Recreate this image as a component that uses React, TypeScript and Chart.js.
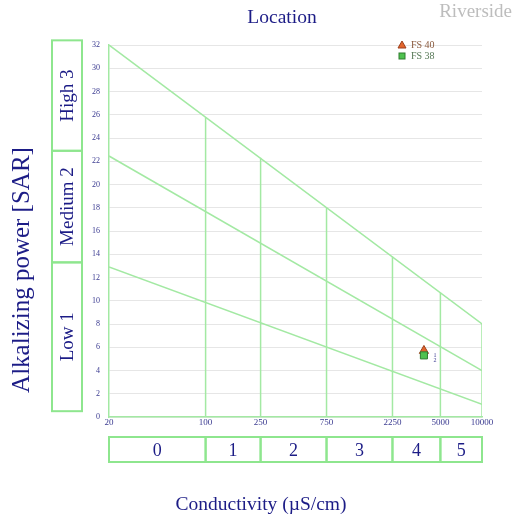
import React, { useEffect, useRef } from "react";
import { Chart, registerables } from "chart.js";

Chart.register(...registerables);

// ---- data ----
const conductivityTicks = [20, 100, 250, 750, 2250, 5000, 10000];
const salinityClassBounds = [20, 100, 250, 750, 2250, 5000, 10000];
const salinityClassLabels = ["0", "1", "2", "3", "4", "5"];
const boundaryTopsSAR = [25.8, 22.3, 18.0, 13.8, 10.7, 8]; // tops of verticals at 100..10000
const sodiumClassBounds = [0.5, 13.3, 22.9, 32.4];
const sodiumClassLabels = ["Low 1", "Medium 2", "High 3"];
const upperLineSAR = [32, 8]; // at EC 20 and 10000
const middleLineSAR = [22.45, 4.0];
const lowerLineSAR = [12.9, 1.1];
const lineEC = [20, 10000];
const sampleNames = ["FS 40", "FS 38"];
const sampleIds = ["1", "2"];
const sampleEC = [3800, 3800];
const sampleSAR = [5.7, 5.3];

const NAVY = "#1c1c86";
const TICK_NAVY = "#3a3a90";
const LINE_GREEN = "#a3e9a3";
const BOX_GREEN = "#8ee68e";
const SERIF = "'Liberation Serif', 'Times New Roman', serif";

const decor = {
  id: "decor",
  afterDatasetsDraw(chart: any) {
    const { ctx } = chart;
    ctx.save();
    ctx.font = `6px ${SERIF}`;
    ctx.fillStyle = TICK_NAVY;
    ctx.textAlign = "center";
    ctx.textBaseline = "middle";
    [0, 1].forEach((i) => {
      const meta = chart.getDatasetMeta(chart.data.datasets.length - 2 + i);
      const el = meta.data[0];
      if (el) ctx.fillText(sampleIds[i], el.x + 11, el.y + 5);
    });
    ctx.restore();
  },
  afterDraw(chart: any) {
    const { ctx } = chart;
    const x = chart.scales.x;
    const y = chart.scales.y;
    ctx.save();
    // titles
    ctx.fillStyle = NAVY;
    ctx.textAlign = "center";
    ctx.textBaseline = "middle";
    ctx.font = `19.5px ${SERIF}`;
    ctx.fillText("Location", 282, 18);
    ctx.fillText("Conductivity (µS/cm)", 261, 505);
    ctx.fillStyle = "#bdbdbd";
    ctx.textAlign = "right";
    ctx.font = `19px ${SERIF}`;
    ctx.fillText("Riverside", 512, 12);
    // y title
    ctx.save();
    ctx.translate(22, 270);
    ctx.rotate(-Math.PI / 2);
    ctx.fillStyle = NAVY;
    ctx.textAlign = "center";
    ctx.font = `25px ${SERIF}`;
    ctx.fillText("Alkalizing power [SAR]", 0, 0);
    ctx.restore();

    // bottom salinity boxes
    ctx.strokeStyle = BOX_GREEN;
    ctx.lineWidth = 2;
    ctx.font = `18px ${SERIF}`;
    ctx.fillStyle = NAVY;
    ctx.textAlign = "center";
    for (let i = 0; i < salinityClassLabels.length; i++) {
      const x0 = x.getPixelForValue(salinityClassBounds[i]);
      const x1 = x.getPixelForValue(salinityClassBounds[i + 1]);
      ctx.strokeRect(x0, 437, x1 - x0, 25);
      ctx.fillText(salinityClassLabels[i], (x0 + x1) / 2, 451);
    }
    // left sodium boxes
    ctx.font = `19px ${SERIF}`;
    for (let i = 0; i < sodiumClassLabels.length; i++) {
      const y0 = y.getPixelForValue(sodiumClassBounds[i]);
      const y1 = y.getPixelForValue(sodiumClassBounds[i + 1]);
      ctx.strokeRect(52, y1, 30, y0 - y1);
      ctx.save();
      ctx.translate(67, (y0 + y1) / 2);
      ctx.rotate(-Math.PI / 2);
      ctx.fillText(sodiumClassLabels[i], 0, 1);
      ctx.restore();
    }

    // legend
    ctx.font = `10px ${SERIF}`;
    ctx.textAlign = "left";
    ctx.beginPath();
    ctx.moveTo(402, 41);
    ctx.lineTo(406, 48);
    ctx.lineTo(398, 48);
    ctx.closePath();
    ctx.fillStyle = "#e2652d";
    ctx.fill();
    ctx.strokeStyle = "#9c3f1c";
    ctx.lineWidth = 1;
    ctx.stroke();
    ctx.fillStyle = "#8a5a3e";
    ctx.fillText(sampleNames[0], 411, 45);
    ctx.fillStyle = "#4fc24f";
    ctx.fillRect(399, 53, 6, 6);
    ctx.strokeStyle = "#2f7d2f";
    ctx.strokeRect(399, 53, 6, 6);
    ctx.fillStyle = "#557755";
    ctx.fillText(sampleNames[1], 411, 56.5);
    ctx.restore();
  },
};

function lineDataset(data: { x: number; y: number }[]) {
  return {
    type: "scatter" as const,
    data,
    showLine: true,
    borderColor: LINE_GREEN,
    borderWidth: 1.5,
    pointRadius: 0,
    fill: false,
    order: 5,
  };
}

export default function App() {
  const ref = useRef<HTMLCanvasElement>(null);
  useEffect(() => {
    if (!ref.current) return;
    const verticals = salinityClassBounds.slice(1).map((ec, i) =>
      lineDataset([
        { x: ec, y: 0 },
        { x: ec, y: boundaryTopsSAR[i] },
      ])
    );
    const diag = [upperLineSAR, middleLineSAR, lowerLineSAR].map((arr) =>
      lineDataset(lineEC.map((ec, i) => ({ x: ec, y: arr[i] })))
    );
    const chart = new Chart(ref.current, {
      type: "scatter",
      data: {
        datasets: [
          ...diag,
          ...verticals,
          {
            label: sampleNames[0],
            data: [{ x: sampleEC[0], y: sampleSAR[0] }],
            pointStyle: "triangle",
            pointRadius: 5.3,
            backgroundColor: "#e2652d",
            borderColor: "#9c3f1c",
            borderWidth: 1,
            order: 1,
          },
          {
            label: sampleNames[1],
            data: [{ x: sampleEC[1], y: sampleSAR[1] }],
            pointStyle: "rect",
            pointRadius: 5,
            backgroundColor: "#4fc24f",
            borderColor: "#2f7d2f",
            borderWidth: 1,
            order: 0,
          },
        ] as any,
      },
      options: {
        animation: false,
        responsive: false,
        layout: { padding: { left: 0, top: 45, right: 46, bottom: 0 } },
        plugins: {
          legend: { display: false },
          title: { display: false },
          tooltip: { enabled: false },
        },
        scales: {
          x: {
            type: "logarithmic",
            min: 20,
            max: 10000,
            afterFit: (s: any) => {
              s.height = 102;
            },
            afterBuildTicks: (s: any) => {
              s.ticks = conductivityTicks.map((v) => ({ value: v }));
            },
            grid: { display: true, color: "rgba(0,0,0,0)", drawTicks: false },
            border: { display: true, color: LINE_GREEN, width: 1.5 },
            ticks: {
              autoSkip: false,
              maxRotation: 0,
              padding: 0,
              color: TICK_NAVY,
              font: { family: SERIF, size: 9 },
              callback: (v: any) => String(v),
            },
          },
          y: {
            min: 0,
            max: 32,
            afterFit: (s: any) => {
              s.width = 109;
            },
            grid: { color: "#e6e6e6", lineWidth: 1, drawTicks: false },
            border: { display: true, color: LINE_GREEN, width: 1.5 },
            ticks: {
              stepSize: 2,
              padding: 9,
              color: TICK_NAVY,
              font: { family: SERIF, size: 8 },
            },
          },
        },
      } as any,
      plugins: [decor],
    });
    return () => chart.destroy();
  }, []);
  return (
    <div style={{ position: "absolute", left: 0, top: 0, width: 528, height: 519 }}>
      <canvas ref={ref} width={528} height={519} style={{ width: 528, height: 519 }} />
    </div>
  );
}
